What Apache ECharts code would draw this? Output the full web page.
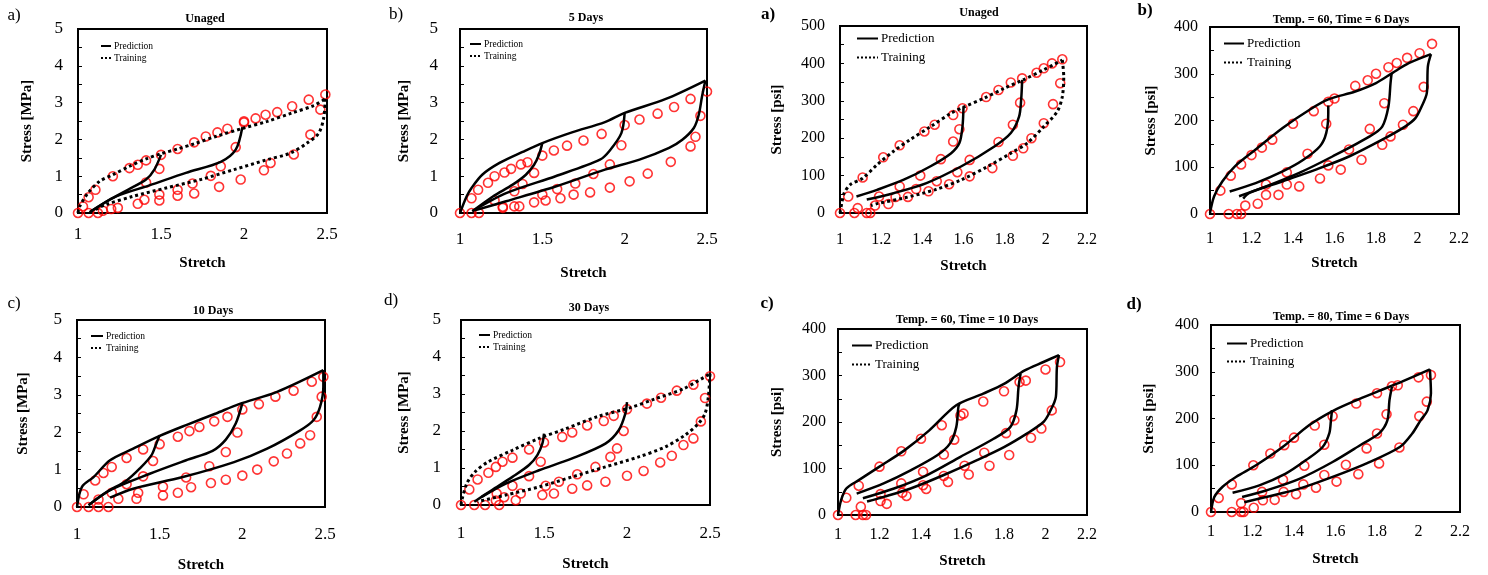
<!DOCTYPE html>
<html>
<head>
<meta charset="utf-8">
<script src="https://cdn.jsdelivr.net/npm/echarts@6/dist/echarts.min.js"></script>
<style>
  html, body { margin: 0; padding: 0; background: #fff; }
  #chart { width: 1488px; height: 575px; }
</style>
</head>
<body>
<div id="chart"></div>
<script>
const FONT = '"Liberation Serif", "Times New Roman", serif';

// --------------------------------------------------------------
// Data: [stretch, stress] pairs
// --------------------------------------------------------------

// a) Unaged [MPa]
const P1_EXP = [[1,0],[1.03,0.18],[1.064,0.43],[1.105,0.63],[1.21,1.0],[1.31,1.22],[1.36,1.31],[1.41,1.43],[1.5,1.58],[1.6,1.74],[1.7,1.92],[1.77,2.08],[1.84,2.19],[1.9,2.29],[2.0,2.46],[2.0,2.49],[2.07,2.57],[2.13,2.67],[2.2,2.74],[2.29,2.9],[2.39,3.08],[2.49,3.22],[2.46,2.81],[2.4,2.13],[2.3,1.59],[2.16,1.36],[2.12,1.16],[1.98,0.91],[1.95,1.79],[1.86,1.27],[1.8,1.01],[1.85,0.71],[1.69,0.8],[1.7,0.53],[1.6,0.63],[1.6,0.47],[1.49,1.2],[1.49,0.5],[1.49,0.34],[1.41,0.83],[1.4,0.36],[1.36,0.25],[1.24,0.14],[1.2,0.11],[1.15,0.06],[1.12,0],[1.064,0]];
const P1_TRAIN = [
    [[1,0],[1.01,0.18],[1.06,0.54],[1.13,0.86],[1.21,1.04],[1.31,1.27],[1.41,1.47],[1.5,1.61],[1.6,1.74],[1.7,1.88],[1.83,2.08],[2.0,2.31],[2.14,2.49],[2.29,2.72],[2.42,2.92],[2.49,3.1]],
    [[2.49,3.1],[2.48,2.58],[2.45,2.17],[2.38,1.9],[2.28,1.63],[2.14,1.45],[1.94,1.18],[1.74,0.91],[1.53,0.68],[1.33,0.45],[1.17,0.23],[1.07,0.02]]
];
const P1_PRED = [
    [[1.07,0.02],[1.19,0.36],[1.3,0.63],[1.41,0.91],[1.46,1.18],[1.5,1.58]],
    [[1.08,0.05],[1.23,0.45],[1.43,0.75],[1.65,1.09],[1.86,1.39],[1.95,1.72],[1.99,2.33]]
];

// b) 5 Days [MPa]
const P2_EXP = [[1,0],[1.07,0.4],[1.11,0.63],[1.17,0.82],[1.21,1.0],[1.27,1.1],[1.31,1.2],[1.37,1.32],[1.41,1.38],[1.5,1.56],[1.57,1.7],[1.65,1.83],[1.75,1.97],[1.86,2.15],[2.0,2.39],[2.09,2.54],[2.2,2.7],[2.3,2.88],[2.4,3.1],[2.5,3.3],[2.46,2.64],[2.43,2.07],[2.4,1.81],[2.28,1.39],[2.14,1.07],[2.03,0.86],[1.91,0.69],[1.79,0.56],[1.69,0.5],[1.61,0.4],[1.52,0.34],[1.45,0.29],[1.36,0.18],[1.33,0.18],[1.26,0.14],[1.26,0.17],[1.98,1.84],[1.91,1.32],[1.81,1.06],[1.7,0.8],[1.59,0.65],[1.5,0.5],[1.45,1.09],[1.38,0.79],[1.33,0.59],[1.21,0.34],[1.07,0],[1.115,0]];
const P2_PRED = [
    [[1,0],[1.04,0.45],[1.07,0.68],[1.135,1.04],[1.24,1.36],[1.38,1.66],[1.5,1.9],[1.68,2.19],[1.88,2.47],[2.0,2.72],[2.25,3.1],[2.49,3.6]],
    [[2.49,3.6],[2.47,3.17],[2.45,2.67],[2.42,2.31],[2.35,1.99],[2.27,1.77],[2.09,1.45],[1.88,1.18],[1.58,0.72],[1.28,0.32],[1.09,0.07]],
    [[1.075,0.05],[1.28,0.54],[1.58,1.0],[1.85,1.45],[1.91,1.7],[1.98,2.17],[2.0,2.72]],
    [[1.075,0.05],[1.2,0.45],[1.32,0.77],[1.4,1.04],[1.45,1.31],[1.48,1.59],[1.5,1.9]]
];

// a) Unaged [psi]
const P3_EXP = [[1,0],[1.04,44],[1.086,13],[1.07,0],[1.13,0],[1.147,0],[1.11,95],[1.17,20],[1.19,44],[1.235,24],[1.21,149],[1.27,43],[1.29,181],[1.29,71],[1.33,43],[1.37,64],[1.39,100],[1.41,218],[1.43,58],[1.46,236],[1.47,85],[1.49,144],[1.53,77],[1.55,262],[1.55,191],[1.57,109],[1.58,224],[1.595,280],[1.63,98],[1.63,142],[1.71,310],[1.74,120],[1.77,190],[1.77,329],[1.83,349],[1.84,236],[1.84,153],[1.875,295],[1.885,360],[1.89,173],[1.93,200],[1.955,375],[1.99,387],[1.99,240],[2.03,400],[2.035,291],[2.07,347],[2.08,411]];
const P3_TRAIN = [
    [[1,0],[1.01,30],[1.02,53],[1.05,76],[1.11,93],[1.18,129],[1.26,165],[1.34,196],[1.44,231],[1.54,267],[1.6,283],[1.7,307],[1.8,334],[1.89,356],[1.99,383],[2.08,409]],
    [[2.08,409],[2.087,365],[2.08,311],[2.055,271],[1.99,231],[1.91,187],[1.83,160],[1.72,125],[1.59,89],[1.46,62],[1.31,40],[1.18,25],[1.15,20]]
];
const P3_PRED = [
    [[1.08,44],[1.18,62],[1.31,89],[1.44,125],[1.54,160],[1.58,187],[1.595,231],[1.6,285]],
    [[1.13,36],[1.26,53],[1.42,80],[1.59,125],[1.75,178],[1.83,214],[1.87,258],[1.88,302],[1.885,356]]
];

// b) Temp. = 60, Time = 6 Days [psi]
const P4_EXP = [[1,0],[1.05,50],[1.1,82],[1.09,0],[1.13,0],[1.15,0],[1.15,106],[1.17,18],[1.2,126],[1.23,22],[1.25,142],[1.27,63],[1.27,41],[1.3,159],[1.33,41],[1.37,89],[1.37,63],[1.4,193],[1.43,59],[1.47,129],[1.5,220],[1.53,76],[1.56,193],[1.57,240],[1.6,247],[1.57,104],[1.63,95],[1.67,138],[1.7,274],[1.73,116],[1.76,286],[1.77,182],[1.8,300],[1.83,148],[1.84,237],[1.86,314],[1.87,166],[1.9,323],[1.93,191],[1.95,334],[1.98,220],[2.01,344],[2.03,272],[2.07,364]];
const P4_PRED = [
    [[1,2],[1.02,38],[1.06,70],[1.12,102],[1.22,138],[1.35,184],[1.48,223],[1.57,245],[1.7,262],[1.8,280],[1.88,302],[1.96,323],[2.065,342]],
    [[2.065,342],[2.05,316],[2.045,259],[2.02,230],[1.99,205],[1.94,187],[1.83,159],[1.67,123],[1.51,95],[1.35,70],[1.19,45],[1.16,33]],
    [[1.14,38],[1.27,59],[1.43,88],[1.59,123],[1.77,166],[1.83,187],[1.86,230],[1.87,280],[1.875,300]],
    [[1.095,48],[1.22,66],[1.35,91],[1.45,116],[1.53,145],[1.56,173],[1.57,216],[1.57,232]]
];

// c) 10 Days [MPa]
const P5_EXP = [[1,0],[1.04,0.34],[1.07,0],[1.11,0.71],[1.13,0],[1.13,0.2],[1.16,0.91],[1.19,0],[1.21,1.07],[1.21,0.38],[1.25,0.22],[1.3,1.31],[1.3,0.61],[1.36,0.22],[1.37,0.38],[1.4,1.54],[1.4,0.82],[1.46,1.23],[1.5,1.68],[1.52,0.54],[1.52,0.31],[1.61,1.88],[1.61,0.38],[1.66,0.79],[1.68,2.03],[1.69,0.53],[1.74,2.14],[1.8,1.09],[1.81,0.64],[1.83,2.29],[1.9,1.47],[1.9,0.73],[1.91,2.41],[1.97,1.99],[2.0,2.61],[2.0,0.84],[2.09,1.0],[2.1,2.75],[2.19,1.22],[2.2,2.95],[2.27,1.43],[2.31,3.11],[2.35,1.7],[2.41,1.92],[2.42,3.35],[2.45,2.41],[2.48,2.95],[2.49,3.48]];
const P5_PRED = [
    [[1,0],[1.03,0.54],[1.1,0.8],[1.2,1.25],[1.34,1.56],[1.5,1.9],[1.66,2.19],[1.84,2.5],[1.98,2.75],[2.21,3.08],[2.49,3.66]],
    [[2.49,3.66],[2.49,3.21],[2.47,2.68],[2.43,2.32],[2.35,2.05],[2.15,1.56],[1.95,1.2],[1.64,0.8],[1.34,0.49],[1.2,0.25]],
    [[1.07,0.05],[1.2,0.45],[1.44,0.89],[1.66,1.25],[1.82,1.5],[1.9,1.8],[1.96,2.23],[2.0,2.77]],
    [[1.07,0.05],[1.18,0.4],[1.3,0.71],[1.38,1.03],[1.45,1.38],[1.48,1.7],[1.5,1.92]]
];

// d) 30 Days [MPa]
const P6_EXP = [[1,0],[1.05,0.42],[1.08,0],[1.1,0.69],[1.145,0],[1.165,0.87],[1.21,1.03],[1.21,0.12],[1.215,0.31],[1.23,0],[1.25,1.17],[1.26,0.21],[1.31,1.28],[1.31,0.52],[1.33,0.13],[1.36,0.31],[1.41,1.5],[1.41,0.78],[1.48,1.17],[1.49,0.27],[1.5,1.69],[1.51,0.52],[1.56,0.31],[1.59,0.63],[1.61,1.84],[1.67,1.96],[1.67,0.44],[1.7,0.83],[1.76,2.15],[1.76,0.53],[1.81,1.03],[1.86,2.27],[1.87,0.63],[1.9,1.3],[1.92,2.41],[1.94,1.53],[1.98,2.0],[2.0,2.59],[2.0,0.79],[2.1,0.92],[2.12,2.74],[2.2,1.15],[2.205,2.9],[2.27,1.33],[2.3,3.09],[2.34,1.62],[2.4,3.25],[2.4,1.8],[2.445,2.26],[2.47,2.89],[2.5,3.48]];
const P6_TRAIN = [
    [[1,0],[1.005,0.13],[1.035,0.58],[1.085,0.9],[1.165,1.17],[1.31,1.48],[1.47,1.8],[1.63,2.06],[1.83,2.4],[2.02,2.63],[2.17,2.87],[2.34,3.14],[2.5,3.55]],
    [[2.5,3.55],[2.49,2.92],[2.47,2.47],[2.43,2.2],[2.35,1.89],[2.23,1.57],[2.07,1.3],[1.87,1.03],[1.67,0.76],[1.47,0.49],[1.27,0.27],[1.1,0.09]]
];
const P6_PRED = [
    [[1.08,0.09],[1.185,0.4],[1.31,0.76],[1.41,1.08],[1.46,1.35],[1.49,1.66],[1.5,1.93]],
    [[1.125,0.22],[1.27,0.58],[1.47,0.94],[1.67,1.26],[1.87,1.66],[1.95,2.02],[1.99,2.47],[2.0,2.78]]
];

// c) Temp. = 60, Time = 10 Days [psi]
const P7_EXP = [[1,0],[1.04,37],[1.085,0],[1.1,63],[1.11,18],[1.12,0],[1.135,0],[1.2,104],[1.205,30],[1.205,45],[1.235,24],[1.305,137],[1.305,68],[1.31,48],[1.33,41],[1.4,164],[1.41,93],[1.41,64],[1.425,56],[1.5,193],[1.51,130],[1.51,84],[1.53,71],[1.56,162],[1.59,214],[1.605,218],[1.61,106],[1.63,87],[1.7,244],[1.705,134],[1.73,106],[1.8,266],[1.81,176],[1.825,129],[1.85,204],[1.875,286],[1.905,289],[1.93,166],[1.98,186],[2.0,313],[2.03,225],[2.07,329]];
const P7_PRED = [
    [[1,0],[1.015,32],[1.04,57],[1.1,75],[1.2,104],[1.32,139],[1.44,182],[1.57,236],[1.7,261],[1.8,282],[1.9,311],[1.99,329],[2.065,344]],
    [[2.065,344],[2.055,318],[2.05,254],[2.02,221],[1.99,200],[1.91,175],[1.8,146],[1.67,118],[1.51,86],[1.35,57],[1.22,39],[1.14,29]],
    [[1.12,36],[1.27,57],[1.43,86],[1.59,125],[1.75,164],[1.83,189],[1.86,225],[1.87,275],[1.88,304]],
    [[1.09,46],[1.22,68],[1.35,96],[1.48,129],[1.54,154],[1.57,189],[1.58,232],[1.585,239]]
];

// d) Temp. = 80, Time = 6 Days [psi]
const P8_EXP = [[1,0],[1.037,30],[1.1,59],[1.1,0],[1.145,19],[1.145,0],[1.157,0],[1.204,100],[1.206,9],[1.246,43],[1.25,25],[1.286,125],[1.307,26],[1.347,69],[1.35,43],[1.353,143],[1.4,159],[1.41,38],[1.45,99],[1.445,59],[1.5,185],[1.506,52],[1.546,79],[1.546,144],[1.586,205],[1.605,65],[1.65,101],[1.7,232],[1.71,81],[1.75,136],[1.8,254],[1.8,168],[1.81,104],[1.846,209],[1.872,269],[1.9,271],[1.908,138],[2.0,288],[2.004,205],[2.04,236],[2.06,293]];
const P8_PRED = [
    [[1,0],[1.016,32],[1.056,54],[1.12,75],[1.217,100],[1.345,139],[1.474,186],[1.586,216],[1.7,239],[1.81,259],[1.92,279],[2.055,305]],
    [[2.055,305],[2.06,254],[2.044,218],[2.01,196],[1.97,168],[1.91,139],[1.75,104],[1.586,75],[1.426,50],[1.265,32],[1.16,21]],
    [[1.15,32],[1.265,46],[1.426,71],[1.586,107],[1.73,146],[1.81,168],[1.85,196],[1.86,239],[1.872,268]],
    [[1.104,41],[1.233,57],[1.36,82],[1.458,111],[1.538,139],[1.57,168],[1.578,196],[1.583,218]]
];

// --------------------------------------------------------------
// Panel layout (pixel boxes match the reference figure)
// --------------------------------------------------------------

const PANELS = [
    { exp: P1_EXP, pred: P1_PRED, train: P1_TRAIN, grid: [78, 29, 249, 184], xMax: 2.5, xInt: 0.5, yMax: 5, yInt: 1, yName: "Stress [MPa]",
      tick: 17, xMargin: 13, yMargin: 15, xGap: 43, yGap: 43, title: ["Unaged", 205, 19], letter: ["a)", 14, 16, false],
      legend: { left: 100, top: 41, w: 10, h: 10, gap: 2, font: 9.5 } },
    { exp: P2_EXP, pred: P2_PRED, train: [], grid: [460, 29, 247, 184], xMax: 2.5, xInt: 0.5, yMax: 5, yInt: 1, yName: "Stress [MPa]",
      tick: 17, xMargin: 18, yMargin: 22, xGap: 53, yGap: 48, title: ["5 Days", 586, 18], letter: ["b)", 396, 15, false],
      legend: { left: 469, top: 39, w: 11, h: 10, gap: 2, font: 9.5 } },
    { exp: P3_EXP, pred: P3_PRED, train: P3_TRAIN, grid: [840, 26, 247, 187], xMax: 2.2, xInt: 0.2, yMax: 500, yInt: 100, yName: "Stress [psi]",
      tick: 16, xMargin: 19, yMargin: 15, xGap: 46, yGap: 55, title: ["Unaged", 979, 13], letter: ["a)", 768, 15, true],
      legend: { left: 856, top: 32, w: 21, h: 12, gap: 6, font: 13 } },
    { exp: P4_EXP, pred: P4_PRED, train: [], grid: [1210, 27, 249, 187], xMax: 2.2, xInt: 0.2, yMax: 400, yInt: 100, yName: "Stress [psi]",
      tick: 16, xMargin: 17, yMargin: 12, xGap: 42, yGap: 51, title: ["Temp. = 60, Time = 6 Days", 1341, 20], letter: ["b)", 1145, 11, true],
      legend: { left: 1223, top: 37, w: 20, h: 12, gap: 6, font: 13 } },
    { exp: P5_EXP, pred: P5_PRED, train: [], grid: [77, 320, 248, 187], xMax: 2.5, xInt: 0.5, yMax: 5, yInt: 1, yName: "Stress [MPa]",
      tick: 17, xMargin: 19, yMargin: 15, xGap: 51, yGap: 46, title: ["10 Days", 213, 311], letter: ["c)", 14, 304, false],
      legend: { left: 90, top: 331, w: 12, h: 10, gap: 2, font: 9.5 } },
    { exp: P6_EXP, pred: P6_PRED, train: P6_TRAIN, grid: [461, 320, 249, 185], xMax: 2.5, xInt: 0.5, yMax: 5, yInt: 1, yName: "Stress [MPa]",
      tick: 17, xMargin: 20, yMargin: 20, xGap: 52, yGap: 49, title: ["30 Days", 589, 308], letter: ["d)", 391, 301, false],
      legend: { left: 478, top: 330, w: 11, h: 10, gap: 2, font: 9.5 } },
    { exp: P7_EXP, pred: P7_PRED, train: [], grid: [838, 329, 249, 186], xMax: 2.2, xInt: 0.2, yMax: 400, yInt: 100, yName: "Stress [psi]",
      tick: 16, xMargin: 12, yMargin: 12, xGap: 39, yGap: 53, title: ["Temp. = 60, Time = 10 Days", 967, 320], letter: ["c)", 767, 304, true],
      legend: { left: 851, top: 339, w: 20, h: 12, gap: 6, font: 13 } },
    { exp: P8_EXP, pred: P8_PRED, train: [], grid: [1211, 325, 249, 187], xMax: 2.2, xInt: 0.2, yMax: 400, yInt: 100, yName: "Stress [psi]",
      tick: 16, xMargin: 12, yMargin: 12, xGap: 40, yGap: 54, title: ["Temp. = 80, Time = 6 Days", 1341, 317], letter: ["d)", 1134, 305, true],
      legend: { left: 1226, top: 337, w: 20, h: 12, gap: 5, font: 13 } }
];

// --------------------------------------------------------------
// Build option
// --------------------------------------------------------------

function lineSeries(name, data, idx, dotted) {
    return {
        name: name,
        type: "line",
        xAxisIndex: idx,
        yAxisIndex: idx,
        data: data,
        symbol: "none",
        smooth: 0.3,
        itemStyle: { color: "#000" },
        lineStyle: { color: "#000", width: dotted ? 3 : 2.5, type: dotted ? "dotted" : "solid" },
        z: 3
    };
}

const grids = [], xAxes = [], yAxes = [], series = [], legends = [], graphics = [];

PANELS.forEach((p, i) => {
    grids.push({
        left: p.grid[0], top: p.grid[1], width: p.grid[2], height: p.grid[3],
        show: true, borderColor: "#000", borderWidth: 2, backgroundColor: "transparent"
    });
    xAxes.push({
        type: "value", gridIndex: i, min: 1, max: p.xMax, interval: p.xInt,
        axisLine: { show: false }, axisTick: { show: false }, splitLine: { show: false },
        axisLabel: { fontFamily: FONT, fontSize: p.tick, color: "#000", margin: p.xMargin },
        name: "Stretch", nameLocation: "middle", nameGap: p.xGap,
        nameTextStyle: { fontFamily: FONT, fontSize: 15, fontWeight: "bold", color: "#000" }
    });
    yAxes.push({
        type: "value", gridIndex: i, min: 0, max: p.yMax, interval: p.yInt,
        axisLine: { show: false }, splitLine: { show: false },
        axisTick: { show: true, inside: true, length: 4, lineStyle: { color: "#000", width: 1 } },
        minorTick: { show: true, splitNumber: 2, length: 4, lineStyle: { color: "#000", width: 1 } },
        axisLabel: { fontFamily: FONT, fontSize: p.tick, color: "#000", margin: p.yMargin },
        name: p.yName, nameLocation: "middle", nameGap: p.yGap, nameRotate: 90,
        nameTextStyle: { fontFamily: FONT, fontSize: 15, fontWeight: "bold", color: "#000" }
    });

    series.push({
        name: "Experiment", type: "scatter", xAxisIndex: i, yAxisIndex: i,
        data: p.exp, symbol: "circle", symbolSize: 9,
        itemStyle: { color: "rgba(255,255,255,0)", borderColor: "#ff0000", borderWidth: 1.6 },
        z: 2
    });
    p.train.forEach(c => series.push(lineSeries("Training", c, i, true)));
    p.pred.forEach(c => series.push(lineSeries("Prediction", c, i, false)));

    legends.push({
        data: ["Prediction", "Training"], orient: "vertical",
        left: p.legend.left, top: p.legend.top, padding: 0,
        itemWidth: p.legend.w, itemHeight: p.legend.h, itemGap: p.legend.gap,
        selectedMode: false,
        // hide the marker that line legends draw in the middle of the sample
        itemStyle: { color: "rgba(0,0,0,0)", borderColor: "rgba(0,0,0,0)", borderWidth: 0, opacity: 0 },
        textStyle: { fontFamily: FONT, fontSize: p.legend.font, color: "#000", padding: [0, 0, 0, -2] }
    });

    graphics.push({
        type: "text", x: p.title[1], y: p.title[2],
        style: { text: p.title[0], font: `bold 12px ${FONT}`, fill: "#000", align: "center", verticalAlign: "middle" }
    });
    graphics.push({
        type: "text", x: p.letter[1], y: p.letter[2],
        style: { text: p.letter[0], font: `${p.letter[3] ? "bold " : ""}17px ${FONT}`, fill: "#000", align: "center", verticalAlign: "middle" }
    });
});

const chart = echarts.init(document.getElementById("chart"), null, { renderer: "canvas" });
chart.setOption({
    animation: false,
    backgroundColor: "#fff",
    grid: grids,
    xAxis: xAxes,
    yAxis: yAxes,
    legend: legends,
    graphic: graphics,
    series: series
});
</script>
</body>
</html>
